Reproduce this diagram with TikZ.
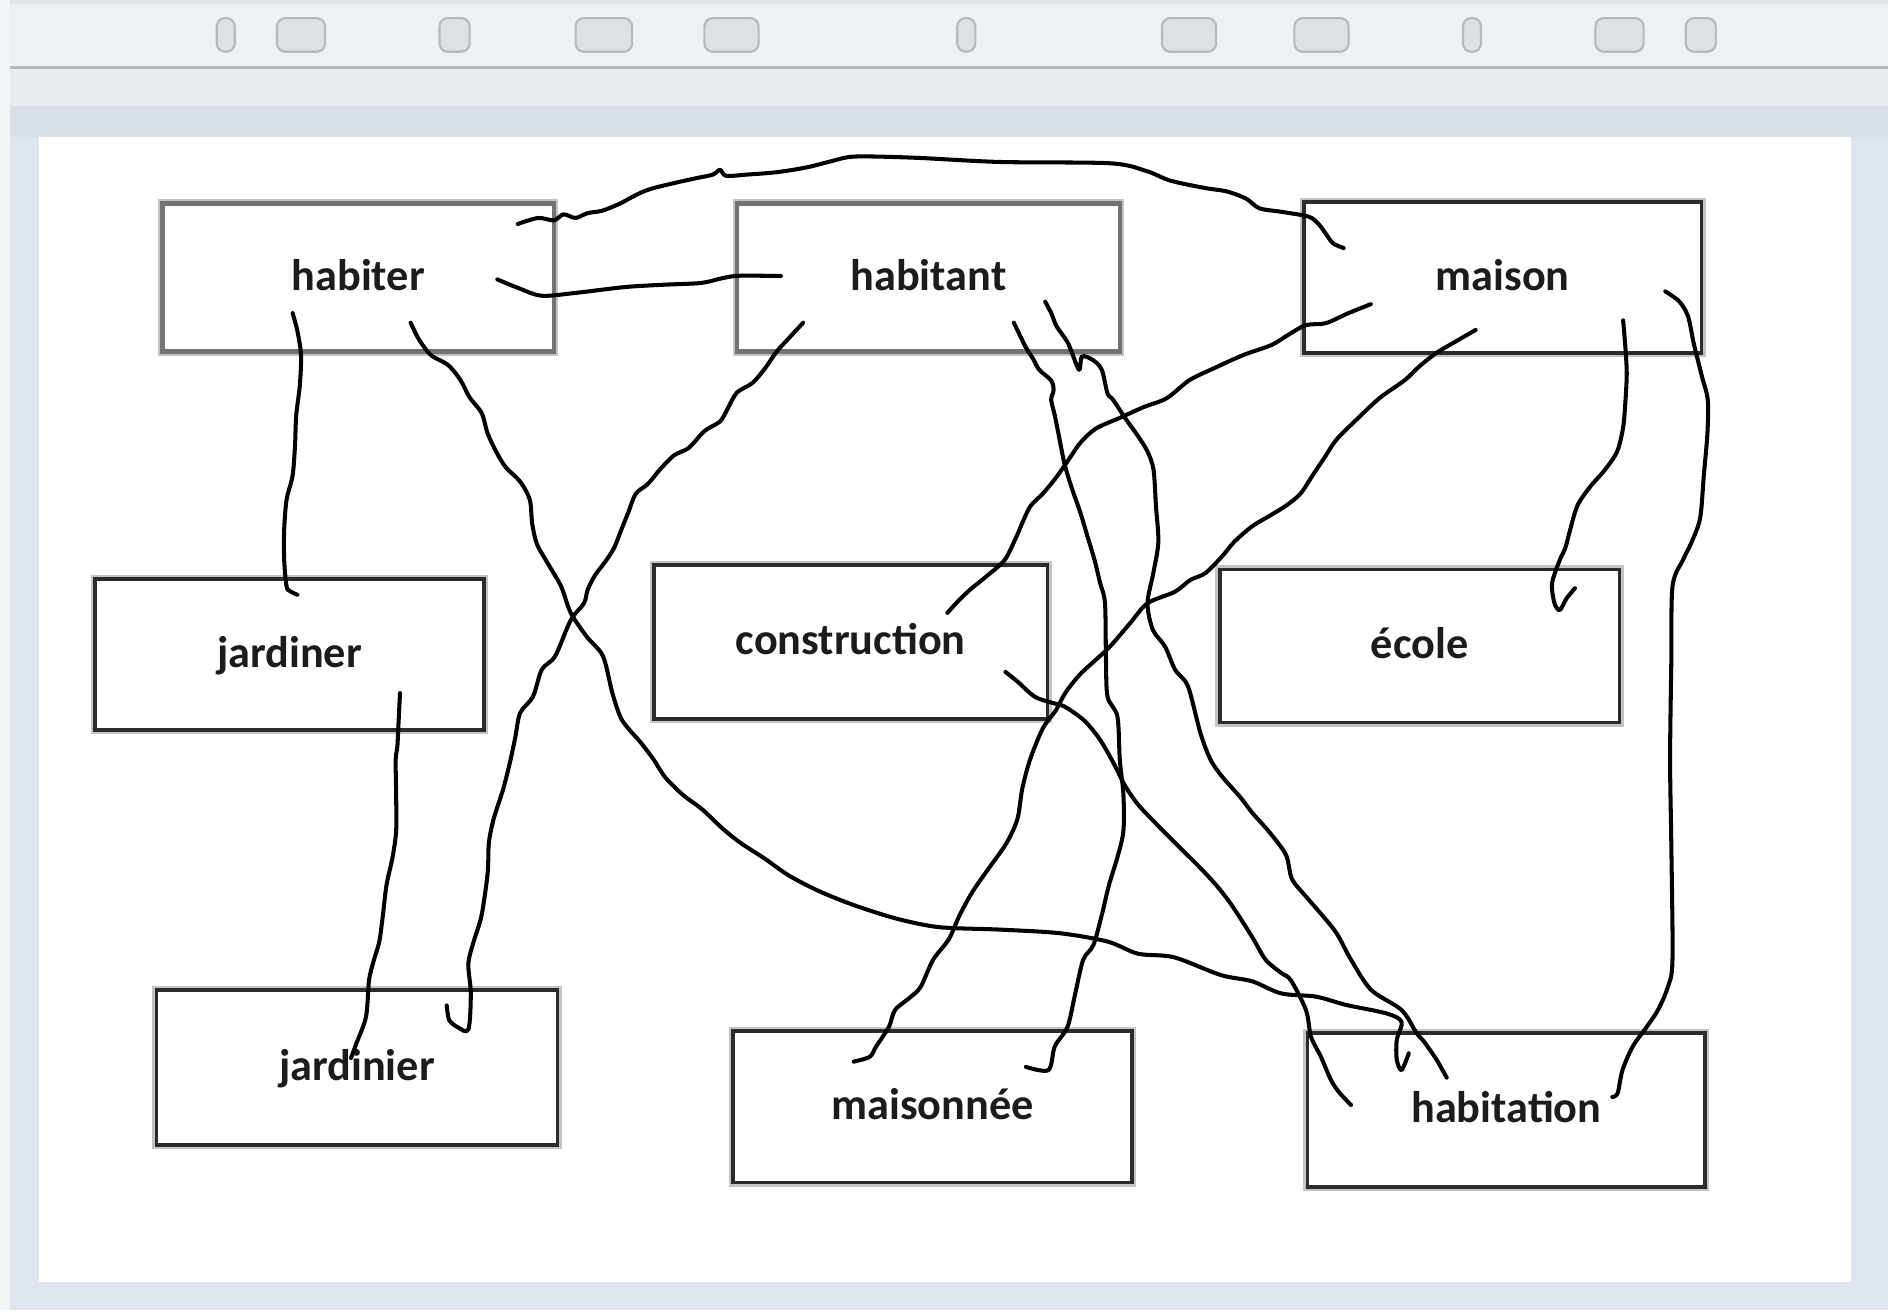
\documentclass[tikz,border=0pt]{standalone}
\usepackage{fontspec}
\setmainfont{Carlito}
\definecolor{frameC}{HTML}{DFE5EC}
\definecolor{barC}{HTML}{EEF1F4}
\definecolor{bandA}{HTML}{E8ECF1}
\definecolor{bandB}{HTML}{D9DFE6}
\definecolor{btnC}{HTML}{DDE1E5}
\definecolor{btnE}{HTML}{B4B9BE}
\definecolor{boxDark}{HTML}{2B2B2B}
\definecolor{boxGrey}{HTML}{737373}
\definecolor{haloC}{HTML}{C4C4C4}
\definecolor{txtC}{HTML}{1C1C1C}
\begin{document}
\begin{tikzpicture}[x=0.012041cm,y=-0.012041cm,
  box/.style={fill=white, draw=boxDark, line width=1.05pt, inner sep=0pt,
    preaction={draw=haloC, line width=2.4pt},
    font=\fontsize{12.6}{14}\selectfont\bfseries, text=txtC,
    text height=0.72em, text depth=0pt},
  greybox/.style={box, draw=boxGrey, line width=1.3pt},
  link/.style={draw=black, line width=1.15pt, line cap=round, line join=round},
  btn/.style={fill=btnC, draw=btnE, line width=0.6pt, rounded corners=2.4pt}]
\useasboundingbox (0,0) rectangle (1568,1088);
% window frame
\fill[frameC] (0,0) rectangle (1568,1088);
\fill[white!60!frameC] (0,0) rectangle (8,1088);
\fill[barC] (8,3) rectangle (1568,56);
\draw[btnE, line width=0.8pt] (8,56) -- (1568,56);
\fill[bandA] (8,57) rectangle (1568,88);
\fill[bandB] (8,88) rectangle (1568,114);
\fill[white] (32,114) rectangle (1537,1065);
% toolbar buttons
\foreach \a/\b in {180/195, 230/270, 365/390, 478/525, 585/630, 795/810, 965/1010, 1075/1120, 1215/1230, 1325/1365, 1400/1425}
  \path[btn] (\a,15) rectangle (\b,43);
% boxes
\node[greybox, minimum width=3.913cm, minimum height=1.481cm] (habiter) at (297.5,230.5) {habiter};
\node[greybox, minimum width=3.829cm, minimum height=1.481cm] (habitant) at (771,230.5) {habitant};
\node[box, minimum width=3.974cm, minimum height=1.505cm] (maison) at (1248,230.5) {maison};
\node[box, minimum width=3.889cm, minimum height=1.505cm] (jardiner) at (240.5,543.5) {jardiner};
\node[box, minimum width=3.937cm, minimum height=1.541cm] (construction) at (706.5,533) {construction};
\node[box, minimum width=3.998cm, minimum height=1.529cm] (ecole) at (1179,536.5) {école};
\node[box, minimum width=4.010cm, minimum height=1.553cm] (jardinier) at (296.5,886.5) {jardinier};
\node[box, minimum width=3.986cm, minimum height=1.517cm] (maisonnee) at (774.5,919) {maisonnée};
\node[box, minimum width=3.974cm, minimum height=1.541cm] (habitation) at (1251,922) {habitation};
% connector end points (inside the boxes)
\coordinate (c1a) at (430,186);   \coordinate (c1b) at (1116,206);
\coordinate (c2a) at (413,232);   \coordinate (c2b) at (648.6,229.2);
\coordinate (c3a) at (243,260);   \coordinate (c3b) at (247,494);
\coordinate (c4a) at (341,268);   \coordinate (c4b) at (1170,874.7);
\coordinate (c5a) at (667,268);   \coordinate (c5b) at (371,835);
\coordinate (c6a) at (842,268);   \coordinate (c6b) at (852,886);
\coordinate (c7a) at (868,250.5); \coordinate (c7b) at (1201.5,895);
\coordinate (c8a) at (1138.5,252.6); \coordinate (c8b) at (786.8,509);
\coordinate (c9a) at (1225.5,274); \coordinate (c9b) at (709,881.7);
\coordinate (c10a) at (1348,266); \coordinate (c10b) at (1308,488.5);
\coordinate (c11a) at (1383,242); \coordinate (c11b) at (1339,911);
\coordinate (c12a) at (835,558);  \coordinate (c12b) at (1122,917.7);
\coordinate (c13a) at (332.2,575.6); \coordinate (c13b) at (291.5,878.7);
% habiter -> maison
\draw[link] plot[smooth, tension=0.5] coordinates {(c1a) (447,181) (460,183) (468,178) (478,181) (488,177) (500,175) (515,169) (528,162) (540,157) (560,152) (578,148) (592,145) (598,141) (603,146) (620,145) (645,143) (670,139) (690,134) (710,130) (760,131) (830,134.5) (922,135.6) (952,142) (972,150) (1000,156) (1019,159) (1035,165) (1046,173) (1065,176) (1087,180) (1095,186) (1101,194) (1107,202) (c1b)};
% habiter -> habitant
\draw[link] plot[smooth, tension=0.5] coordinates {(c2a) (430,239) (450,245.6) (480,243) (518.8,238.4) (550,236.5) (582,235) (600,231) (614,229) (c2b)};
% habiter -> jardiner
\draw[link] plot[smooth, tension=0.5] coordinates {(c3a) (247,275) (250,295) (249,320) (246,345) (245,370) (243,395) (238,415) (236,440) (236,465) (238,487) (241,491) (c3b)};
% habiter -> habitation
\draw[link] plot[smooth, tension=0.5] coordinates {(c4a) (348,282) (358,295) (372,303) (382,315) (390,330) (400,343) (405,360) (412,375) (420,388) (432,400) (440,415) (442,435) (446,452) (455,468) (466,487) (474,509) (487.5,529) (500.8,545) (508.7,576) (516.6,598) (532.4,617) (543,631) (552,645) (567,660) (583,672) (600,688) (615,700) (635,713) (655,727) (680,740) (710,752) (745,763) (780,770) (830,772) (880,775) (920,782) (945,792) (975,795) (1013.7,809.7) (1040,815) (1064,825) (1093,827.7) (1118,834.6) (1151,841.5) (1164,848.5) (1160,863.7) (1160,880) (1164,888.7) (c4b)};
% habitant -> jardinier
\draw[link] plot[smooth, tension=0.5] coordinates {(c5a) (655,281) (645,292) (636,305) (625,318) (612,326) (604,340) (598,350) (585,358) (572,372) (560,378) (548,390) (538,402) (528,410) (522,425) (516,440) (510,455) (503,466) (494,478) (488,490) (485,501) (474,515) (461,545) (450,556) (442.6,578.6) (432,592) (428,612) (424,631) (418,655) (410,680) (406,700) (405,725) (400,760) (394,780) (389,800) (391,825) (389,855) (380,853) (373,847) (c5b)};
% habitant -> maisonnee
\draw[link] plot[smooth, tension=0.5] coordinates {(c6a) (851.7,288) (858,298) (863,307) (873,316) (875,324) (873,332) (876,345) (880,365) (884,385) (890,405) (897,425) (903,445) (909,465) (913.6,484) (917.7,501) (918.5,548) (919.8,578.6) (928,595) (930,631) (933,660) (933,690) (928,712) (921,735) (915,760) (908,785) (899.6,797) (893,825) (886.6,852.7) (876,869) (870.7,888.7) (c6b)};
% habitant -> habitation
\draw[link] plot[smooth, tension=0.5] coordinates {(c7a) (873,260) (877.5,271) (887,285) (896,307) (898.6,296) (907.6,299) (915,307) (919.8,326.7) (924.4,332) (935,348) (945,362) (953,375) (958,390) (960,420) (962,450) (958,475) (953,501) (957.4,523) (967.6,537) (976,556.4) (986.6,570) (997,609) (1005.4,631) (1015,645) (1030,662) (1040,675) (1055,692) (1068,710) (1073,730) (1085,745) (1098,760) (1110,775) (1122,797) (1138.6,822) (1164,838.8) (1176.5,858) (1182.6,865) (1193,880) (c7b)};
% maison -> construction
\draw[link] plot[smooth, tension=0.5] coordinates {(c8a) (1120,260) (1101,268.4) (1084.5,270) (1070,278) (1056,286.5) (1032.7,294.8) (1010,305) (988,315.6) (969,330.7) (950,338) (930,347) (910,356) (897,368) (886,384) (876,398) (866,410) (856,420) (850,432) (844,446) (834.4,465) (820,478) (805.3,490) (795,500) (c8b)};
% maison -> maisonnee
\draw[link] plot[smooth, tension=0.5] coordinates {(c9a) (1210,283) (1192.6,293.3) (1178.5,304.5) (1166.8,315.6) (1145.6,330.7) (1125,350) (1110,365) (1100,380) (1090,395) (1080,410) (1068,420) (1055,428) (1040,437) (1025,450) (1015,462) (1001,476) (988.5,481.7) (975.8,491.4) (953,501) (938.5,517.6) (921.8,537) (910,548) (897,560) (885,575) (876.8,590) (866,605) (855.4,631) (849,655) (845,680) (836,700) (822,720) (808,740) (797,760) (788,780) (775,797) (764.7,819.4) (756.6,827.7) (743.3,838.8) (738.3,852.7) (727.5,869.3) (722.4,877.6) (c9b)};
% maison -> ecole
\draw[link] plot[smooth, tension=0.5] coordinates {(c10a) (1350,290) (1351,310) (1350,332) (1348,355) (1343,375) (1333,390) (1320,405) (1310,420) (1304,440) (1300,455) (1295.4,465) (1289,484.4) (1291,501) (1295.4,506.6) (1301,497) (c10b)};
% maison -> habitation
\draw[link] plot[smooth, tension=0.5] coordinates {(c11a) (1394.8,250.5) (1402,263) (1406.6,285) (1413.5,312.8) (1418.3,332) (1418,360) (1415,395) (1412,430) (1405,450) (1397.7,465) (1389,487) (1388,550) (1387,631) (1388,700) (1389,797) (1385,820) (1376.8,839) (1366,855) (1356,869) (1347.5,888.6) (1343.4,908) (c11b)};
% construction -> habitation
\draw[link] plot[smooth, tension=0.5] coordinates {(c12a) (845,566) (855.4,575.6) (862,580) (875,584) (884.5,587) (900,598) (912,612) (920,625) (927,638) (934,652) (945,668) (962,686) (982,706) (997,721) (1010,735) (1021,749) (1031,764) (1041,780) (1051.3,797.3) (1064,808) (1072,814) (1084.6,838.8) (1088.8,861) (1097,877.6) (1105.4,897) (1112,907) (c12b)};
% jardiner -> jardinier
\draw[link] plot[smooth, tension=0.5] coordinates {(c13a) (331,600) (330,620) (328.6,631) (329,660) (329,690) (326,712) (321,735) (318,760) (315,782) (310.6,797) (306.5,814) (304,844.3) (296,866.5) (c13b)};
\end{tikzpicture}
\end{document}
